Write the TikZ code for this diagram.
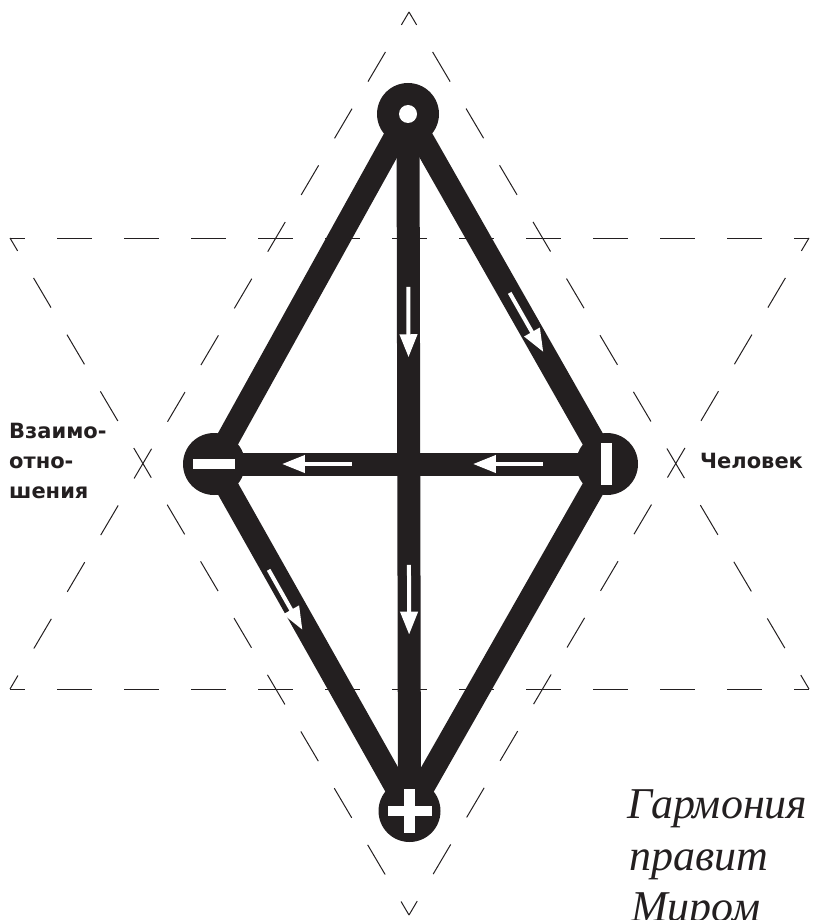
\documentclass[tikz,border=0pt]{standalone}
\usepackage{fontspec}
\setmainfont{Liberation Serif}
\newfontfamily\labelfont{DejaVu Sans}
\usetikzlibrary{arrows.meta,calc}
\definecolor{ink}{HTML}{231F20}
\pgfdeclarelayer{bg}
\pgfsetlayers{bg,main}
\tikzset{
  hub/.style={circle,fill=ink,minimum size=62pt,inner sep=0pt},
  bar/.style={draw=ink,line width=23pt},
  flow/.style={draw=white,line width=4pt,-{Triangle[width=17pt,length=23pt]}},
  guide/.style={draw=ink,line width=1pt,dash pattern=on 35pt off 32pt,dash phase=20pt},
  slantguide/.style={draw=ink,line width=1pt,dash pattern=on 34.4pt off 31.4pt,dash phase=19.4pt},
  lab/.style={font=\labelfont\bfseries\fontsize{21}{21}\selectfont,text=ink,inner sep=0pt,anchor=base west},
  motto/.style={font=\itshape\fontsize{44}{44}\selectfont,text=ink,inner sep=0pt,anchor=base west},
}
\begin{document}
\begin{tikzpicture}[x=1pt,y=-1pt]
\useasboundingbox (0,0) rectangle (812,920);
\clip (0,0) rectangle (812,920);
% hexagram guides
\coordinate (A1) at (409,12);
\coordinate (A2) at (10,689);
\coordinate (A3) at (809,689);
\coordinate (D1) at (10,238);
\coordinate (D2) at (809,238);
\coordinate (D3) at (409,915);
% hubs
\node[hub] (T) at (408,114) {};
\node[hub] (L) at (214,464) {};
\node[hub] (R) at (607,464) {};
\node[hub] (B) at (409.5,811) {};
\begin{pgfonlayer}{bg}
  \draw[slantguide] (A1) -- (A2);
  \draw[slantguide] (A1) -- (A3);
  \draw[guide] (A2) -- (A3);
  \draw[guide] (D1) -- (D2);
  \draw[slantguide] (D1) -- (D3);
  \draw[slantguide] (D2) -- (D3);
  \draw[bar] (T.center) -- (R.center);
  \draw[bar] (T.center) -- (L.center);
  \draw[bar] (L.center) -- (B.center);
  \draw[bar] (R.center) -- (B.center);
  \draw[bar] (T.center) -- (B.center);
  \draw[bar] (R.center) -- (L.center);
\end{pgfonlayer}
% signs
\fill[white] (T.center) circle (9pt);
\fill[white] ($(L.center)+(-21,-5)$) rectangle ++(42,10);
\fill[white] ($(R.center)+(-6,-21)$) rectangle ++(11,42);
\fill[white] ($(B.center)+(-22,-5)$) rectangle ++(44,10);
\fill[white] ($(B.center)+(-5.5,-22)$) rectangle ++(11,44);
% flow arrows
\draw[flow] ($(T.center)!0.511!(R.center)$) -- ($(T.center)!0.68!(R.center)$);
\draw[flow] ($(L.center)!0.305!(B.center)+(-5,0)$) -- ($(L.center)!0.478!(B.center)+(-5,0)$);
\draw[flow] ($(T.center)!0.248!(B.center)$) -- ($(T.center)!0.349!(B.center)$);
\draw[flow] ($(T.center)!0.647!(B.center)$) -- ($(T.center)!0.747!(B.center)$);
\draw[flow] ($(R.center)!0.163!(L.center)$) -- ($(R.center)!0.341!(L.center)$);
\draw[flow] ($(R.center)!0.649!(L.center)$) -- ($(R.center)!0.827!(L.center)$);
% labels
\node[lab] (rel1) at (9,438) {Взаимо-};
\node[lab] (rel2) at (9,468) {отно-};
\node[lab] (rel3) at (9,498) {шения};
\node[lab] (man) at (700,468) {Человек};
\node[motto] (m1) at (627,818) {Гармония};
\node[motto] (m2) at (629,870) {правит};
\node[motto] (m3) at (631,921) {Миром};
\end{tikzpicture}
\end{document}
